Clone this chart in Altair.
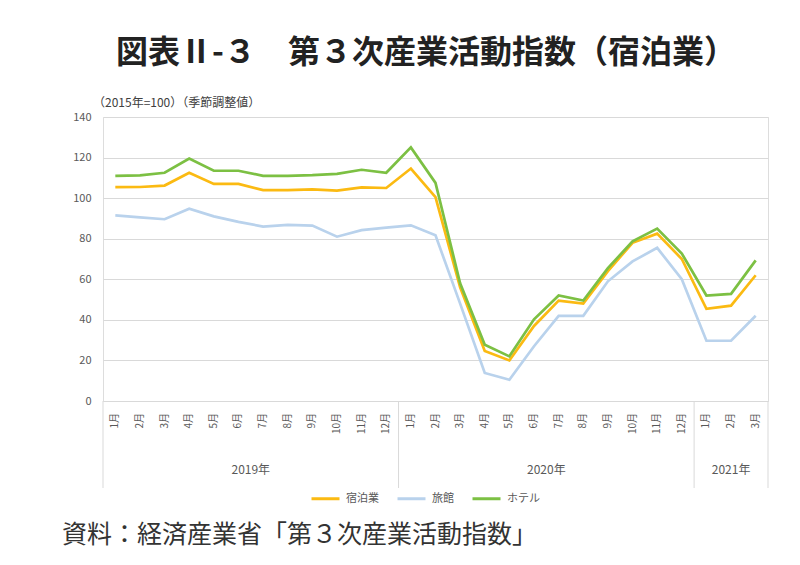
import altair as alt
import pandas as pd

# ---- data ----
years = ["2019年"] * 12 + ["2020年"] * 12 + ["2021年"] * 3
months = [f"{m}月" for m in range(1, 13)] + [f"{m}月" for m in range(1, 13)] + [f"{m}月" for m in range(1, 4)]

shukuhaku = [105.4, 105.5, 106.2, 112.5, 107.0, 107.0, 104.0, 104.0, 104.3, 103.7, 105.3, 105.0,
             114.6, 100.5, 56.0, 24.7, 20.0, 37.0, 49.5, 48.0, 64.0, 78.0, 82.5, 70.0,
             45.4, 47.0, 62.0]
ryokan = [91.5, 90.5, 89.6, 94.8, 91.0, 88.3, 86.0, 86.8, 86.5, 81.0, 84.2, 85.5,
          86.6, 81.7, 48.0, 13.8, 10.5, 27.0, 42.0, 42.0, 59.0, 68.8, 75.5, 60.0,
          29.7, 29.7, 42.0]
hotel = [111.0, 111.2, 112.5, 119.5, 113.5, 113.5, 111.0, 111.0, 111.3, 112.0, 114.0, 112.5,
         125.0, 107.5, 58.0, 27.7, 22.0, 40.3, 52.0, 49.5, 65.5, 78.7, 85.0, 72.7,
         52.0, 52.8, 69.3]

series_names = ["宿泊業", "旅館", "ホテル"]
series_colors = ["#FBBA12", "#B9D2EC", "#7CC043"]
draw_order = ["旅館", "宿泊業", "ホテル"]

title_text = "図表Ⅱ-３　第３次産業活動指数（宿泊業）"
unit_text = "（2015年=100）（季節調整値）"
source_text = "資料：経済産業省「第３次産業活動指数」"
y_ticks = [0, 20, 40, 60, 80, 100, 120, 140]

# ---- tables built from the arrays ----
n = len(months)
values = {"宿泊業": shukuhaku, "旅館": ryokan, "ホテル": hotel}
rows = []
for name in draw_order:
    for i in range(n):
        rows.append({"i": i, "series": name, "v": values[name][i]})
df = pd.DataFrame(rows)
mdf = pd.DataFrame({"i": list(range(n)), "m": months})

year_order = []
for y in years:
    if y not in year_order:
        year_order.append(y)
groups = []
for y in year_order:
    idx = [i for i, yy in enumerate(years) if yy == y]
    groups.append({"year": y, "c": (idx[0] + idx[-1]) / 2, "start": idx[0] - 0.5, "end": idx[-1] + 0.5})
gdf = pd.DataFrame(groups)
div_pos = sorted(set(list(gdf["start"]) + list(gdf["end"])))
ddf = pd.DataFrame({"p": div_pos})

FONT = "Noto Sans CJK JP"
GRID = "#D9D9D9"
TXT = "#595959"

xscale = alt.Scale(domain=[-0.5, n - 0.5], nice=False, zero=False)

lines = alt.Chart(df).mark_line(strokeWidth=2.7).encode(
    x=alt.X("i:Q", scale=xscale,
            axis=alt.Axis(labels=False, ticks=False, grid=False, domain=True, domainColor=GRID,
                          title=None)),
    y=alt.Y("v:Q", scale=alt.Scale(domain=[0, 140], nice=False),
            axis=alt.Axis(values=y_ticks, grid=True, gridColor=GRID, domain=False, ticks=False,
                          labelFontSize=11, labelColor=TXT, labelPadding=12, title=None,
                          labelFont=FONT)),
    color=alt.Color("series:N",
                    scale=alt.Scale(domain=series_names, range=series_colors),
                    legend=alt.Legend(orient="none", legendX=207, legendY=366, direction="horizontal",
                                      title=None, symbolType="stroke", symbolSize=784,
                                      symbolStrokeWidth=3, labelFontSize=11, labelColor=TXT,
                                      labelFont=FONT, columnPadding=12, labelOffset=5)),
    detail="series:N",
)

month_labels = alt.Chart(mdf).mark_text(
    fontSize=10, color=TXT, font=FONT, angle=270, align="right", baseline="middle"
).encode(
    x=alt.X("i:Q", scale=xscale),
    y=alt.value(296),
    text="m:N",
)

dividers = alt.Chart(ddf).mark_rule(color=GRID, strokeWidth=1).encode(
    x=alt.X("p:Q", scale=xscale),
    y=alt.value(284),
    y2=alt.value(371),
)

year_labels = alt.Chart(gdf).mark_text(fontSize=12, color=TXT, font=FONT, baseline="middle").encode(
    x=alt.X("c:Q", scale=xscale),
    y=alt.value(353),
    text="year:N",
)

title = alt.Chart(pd.DataFrame({"t": [title_text]})).mark_text(
    fontSize=32, fontWeight="bold", font=FONT, color="#222222", align="center", baseline="middle"
).encode(x=alt.value(323), y=alt.value(-64), text="t:N")

unit = alt.Chart(pd.DataFrame({"t": [unit_text]})).mark_text(
    fontSize=12, font=FONT, color="#404040", align="left", baseline="middle"
).encode(x=alt.value(-10), y=alt.value(-14), text="t:N")

source = alt.Chart(pd.DataFrame({"t": [source_text]})).mark_text(
    fontSize=25, font=FONT, color="#333333", align="left", baseline="middle"
).encode(x=alt.value(-41), y=alt.value(418), text="t:N")

chart = alt.layer(dividers, lines, month_labels, year_labels, title, unit, source).properties(
    width=665, height=284,
    padding={"left": 103, "top": 117, "right": 32, "bottom": 164},
    autosize=alt.AutoSizeParams(type="none"),
).configure_view(stroke=None).configure(background="white")

chart.save("out.html", embed_options={"renderer": "svg", "actions": False})
